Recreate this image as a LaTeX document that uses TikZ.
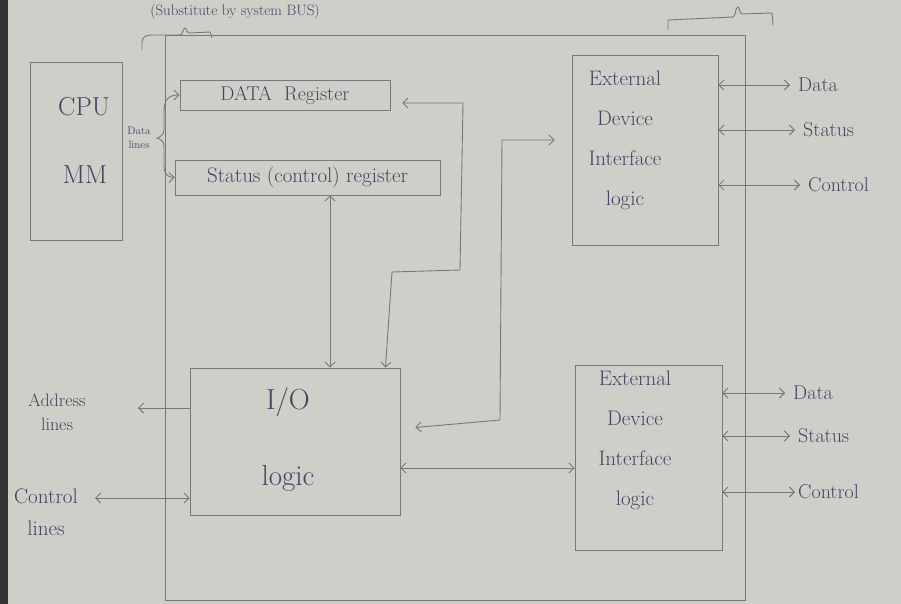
\documentclass[tikz,border=0pt]{standalone}
\usetikzlibrary{arrows.meta,calc}
\definecolor{paper}{RGB}{208,206,201}
\definecolor{pencil}{RGB}{120,119,124}
\definecolor{ink}{RGB}{68,68,98}
\begin{document}
\begin{tikzpicture}[x=1pt,y=-1pt,
  >={Straight Barb[length=5pt,width=10pt]},
  pen/.style={draw=pencil,line width=0.9pt},
  box/.style={draw=pencil,line width=0.9pt,rectangle,inner sep=0pt},
  txt/.style={text=ink,font=\fontsize{16}{18}\selectfont,inner sep=1pt},
  lab/.style={text=ink,font=\fontsize{20}{22}\selectfont,inner ysep=1pt,inner xsep=8pt,anchor=west}
]
\useasboundingbox (0,0) rectangle (901,604);
\fill[paper] (0,0) rectangle (901,604);
\fill[black!80] (0,0) rectangle (8,604);

% caption and brackets
\node[txt,font=\fontsize{15}{17}\selectfont] (bus) at (235,12) {(Substitute by system BUS)};
\draw[pen] (142,50) -- (142,42) .. controls (142,37) and (146,35) .. (152,35) -- (180,35)
  .. controls (183,35) and (183,28) .. (185,28) .. controls (187,28) and (186,33) .. (190,33)
  -- (210,32) -- (212,38);
\draw[pen] (668,30) -- (668,20) -- (733,17) .. controls (736,17) and (735,7) .. (738,7)
  .. controls (740,7) and (739,14) .. (742,14) -- (772,13) -- (773,25);

% boxes
\node[box,minimum width=580pt,minimum height=565pt] (module) at (455,317.5) {};
\node[box,minimum width=92pt,minimum height=178pt] (cpu) at (76,151) {};
\node[txt,font=\fontsize{26}{28}\selectfont] (cput) at (84,107) {CPU};
\node[txt,font=\fontsize{26}{28}\selectfont] (mmt) at (85,175) {MM};
\node[txt,font=\fontsize{11}{14}\selectfont,align=center] (dl) at (139,138) {Data\\lines};

\node[box,txt,draw=pencil,font=\fontsize{20}{22}\selectfont,minimum width=210pt,minimum height=30pt] (datareg) at (285,95) {DATA\ \ Register};
\node[box,txt,draw=pencil,font=\fontsize{21}{23}\selectfont,minimum width=265pt,minimum height=35pt] (statreg) at (307.5,177.5) {Status (control) register};

\node[box,minimum width=210pt,minimum height=147pt] (io) at (295,441.5) {};
\node[txt,font=\fontsize{29}{76}\selectfont,align=center] (iot) at (288,440) {I/O\\logic};

\node[box,minimum width=146pt,minimum height=190pt] (ext1) at (645,150) {};
\node[txt,font=\fontsize{21}{40}\selectfont,align=center] (ext1t) at (625,140) {External\\Device\\Interface\\logic};
\node[box,minimum width=147pt,minimum height=185pt] (ext2) at (648.5,457.5) {};
\node[txt,font=\fontsize{21}{40}\selectfont,align=center] (ext2t) at (635,440) {External\\Device\\Interface\\logic};

% data lines brace
\draw[pen,<->] (datareg.west) .. controls (168,95) and (164,100) .. (164,112) -- (164,130)
  .. controls (164,135) and (160,137) .. (157,138) .. controls (160,139) and (164,141) .. (164,146)
  -- (164,166) .. controls (164,174) and (168,177.5) .. (statreg.west);

% internal connectors
\coordinate (vx) at (330,0);
\draw[pen,<->] (statreg.south -| vx) -- (io.north -| vx);
\draw[pen,<->] ($(datareg.east)+(12,8)$) -- (463,103) -- (460,270) -- (392,272) -- ($(io.north east)+(-15,0)$);
\draw[pen,<->] ($(io.east)+(15,-14)$) -- (500,420) -- (502,140) -- ($(ext1.west)+(-17,-10)$);
\coordinate (ie) at (0,468);
\draw[pen,<->] (io.east |- ie) -- (ext2.west |- ie);

% left side lines
\node[txt,font=\fontsize{18}{24}\selectfont,align=center] (addr) at (57,412) {Address\\lines};
\coordinate (addrend) at (138,408);
\draw[pen,->] (io.west |- addrend) -- (addrend);
\node[txt,font=\fontsize{21}{32}\selectfont,align=center] (ctl) at (46,512) {Control\\lines};
\coordinate (ctlend) at (95,498);
\draw[pen,<->] (ctlend) -- (io.west |- ctlend);

% right side lines
\node[lab] (d1) at (790,85) {Data};
\node[lab] (s1) at (795,130) {Status};
\node[lab] (c1) at (800,185) {Control};
\draw[pen,<->] (ext1.east |- d1.west) -- (d1.west);
\draw[pen,<->] (ext1.east |- s1.west) -- (s1.west);
\draw[pen,<->] (ext1.east |- c1.west) -- (c1.west);
\node[lab] (d2) at (785,393) {Data};
\node[lab] (s2) at (790,436) {Status};
\node[lab,inner xsep=3pt] (c2) at (795,492) {Control};
\draw[pen,<->] (ext2.east |- d2.west) -- (d2.west);
\draw[pen,<->] (ext2.east |- s2.west) -- (s2.west);
\draw[pen,<->] (ext2.east |- c2.west) -- (c2.west);
\end{tikzpicture}
\end{document}
